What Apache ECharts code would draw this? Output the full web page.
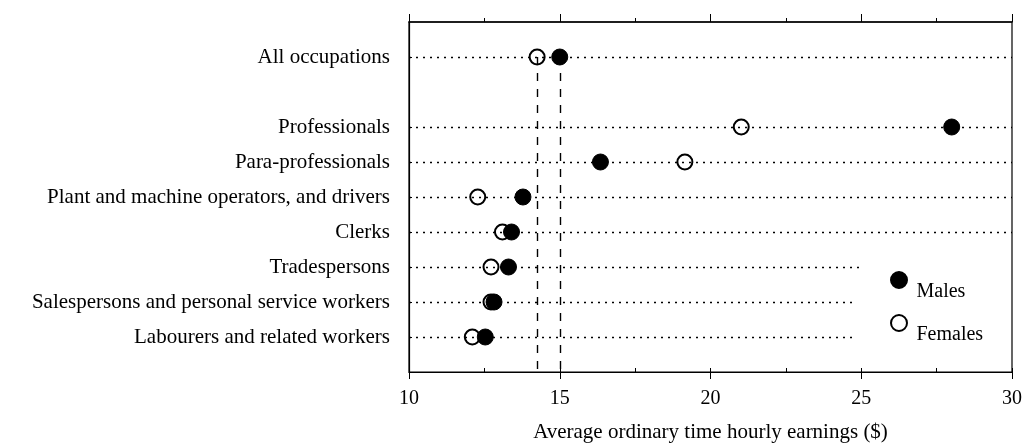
<!DOCTYPE html>
<html>
<head>
<meta charset="utf-8">
<script src="https://cdn.jsdelivr.net/npm/echarts@6/dist/echarts.min.js"></script>
<style>
  html, body { margin: 0; padding: 0; background: #fff; }
  #main { width: 1034px; height: 448px; }
</style>
</head>
<body>
<div id="main"></div>
<script>
// occupations, top to bottom
var categories = ['All occupations', 'Professionals', 'Para-professionals',
    'Plant and machine operators, and drivers', 'Clerks', 'Tradespersons',
    'Salespersons and personal service workers', 'Labourers and related workers'];
var males   = [15.0, 28.0, 16.35, 13.78, 13.4, 13.3, 12.82, 12.53];
var females = [14.25, 21.02, 19.15, 12.28, 13.1, 12.72, 12.72, 12.1];
// where each dotted guide line stops (legend sits over the last rows)
var lineEnds = [30, 30, 30, 30, 30, 25, 24.8, 24.8];
var xTicks = [10, 15, 20, 25, 30];

var font = 'Liberation Serif, Times New Roman, serif';

// y slots: blank row on top, gap after "All occupations", blank row at bottom
var yData = [' '].concat([categories[0], '  '], categories.slice(1), ['   ']);

var myChart = echarts.init(document.getElementById('main'));

var guideLines = categories.map(function (c, i) {
    return [{ coord: [10, c] }, { coord: [lineEnds[i], c] }];
});

var option = {
    animation: false,
    grid: {
        left: 409, right: 22, top: 22, bottom: 70,
        show: true, borderColor: '#000', borderWidth: 1.2
    },
    legend: {
        data: ['Males', 'Females'],
        orient: 'vertical',
        left: 885, top: 266,
        itemWidth: 17, itemHeight: 16, itemGap: 12,
        formatter: '{t|{name}}',
        textStyle: {
            color: '#000',
            rich: { t: { fontFamily: font, fontSize: 20, color: '#000', padding: [24, 0, 0, 4] } }
        }
    },
    xAxis: [{
        type: 'value',
        position: 'bottom',
        min: xTicks[0], max: xTicks[xTicks.length - 1], interval: 5,
        name: 'Average ordinary time hourly earnings ($)',
        nameLocation: 'middle', nameGap: 50,
        nameTextStyle: { fontFamily: font, fontSize: 21, color: '#000' },
        axisLine: { show: true, lineStyle: { color: '#000', width: 1.2 } },
        axisTick: { show: true, length: 7, lineStyle: { color: '#000' } },
        axisLabel: { fontFamily: font, fontSize: 20, color: '#000', margin: 17 },
        splitLine: { show: false }
    }, {
        type: 'value',
        position: 'top',
        min: 10, max: 30, interval: 5,
        axisLine: { show: true, lineStyle: { color: '#000', width: 1.6 } },
        axisTick: { show: true, length: 8, lineStyle: { color: '#000' } },
        minorTick: { show: true, splitNumber: 2, length: 4, lineStyle: { color: '#000' } },
        axisLabel: { show: false },
        splitLine: { show: false }
    }, {
        // small inward ticks along the bottom edge
        type: 'value',
        position: 'bottom',
        min: 10, max: 30, interval: 2.5,
        axisLine: { show: false },
        axisTick: { show: true, inside: true, length: 4, lineStyle: { color: '#000' } },
        axisLabel: { show: false },
        splitLine: { show: false }
    }],
    yAxis: {
        type: 'category',
        data: yData,
        inverse: true,
        boundaryGap: false,
        axisLine: { show: true, lineStyle: { color: '#000', width: 1.2 } },
        axisTick: {
            show: true, inside: true, length: 3, lineStyle: { color: '#000' },
            interval: function (i, v) { return categories.indexOf(v) >= 0; }
        },
        axisLabel: { fontFamily: font, fontSize: 21, color: '#000', margin: 19 },
        splitLine: { show: false }
    },
    series: [{
        name: 'Females',
        type: 'scatter',
        symbol: 'circle',
        symbolSize: 15,
        itemStyle: { color: '#fff', borderColor: '#000', borderWidth: 2, opacity: 1 },
        data: females.map(function (v, i) { return [v, categories[i]]; }),
        markLine: {
            silent: true, symbol: 'none',
            label: { show: false },
            lineStyle: { color: '#000', type: [2, 5], width: 1.4 },
            data: guideLines
        },
        z: 3
    }, {
        name: 'Males',
        type: 'scatter',
        symbol: 'circle',
        symbolSize: 16,
        itemStyle: { color: '#000', borderColor: '#000', borderWidth: 1, opacity: 1 },
        data: males.map(function (v, i) { return [v, categories[i]]; }),
        markLine: {
            silent: true, symbol: 'none',
            label: { show: false },
            lineStyle: { color: '#000', type: [8, 8], width: 1.4 },
            // dashed verticals at the all-occupations averages
            data: [
                [{ coord: [females[0], categories[0]] }, { coord: [females[0], '   '] }],
                [{ coord: [males[0], categories[0]] }, { coord: [males[0], '   '] }]
            ]
        },
        z: 4
    }]
};

myChart.setOption(option);
</script>
</body>
</html>
